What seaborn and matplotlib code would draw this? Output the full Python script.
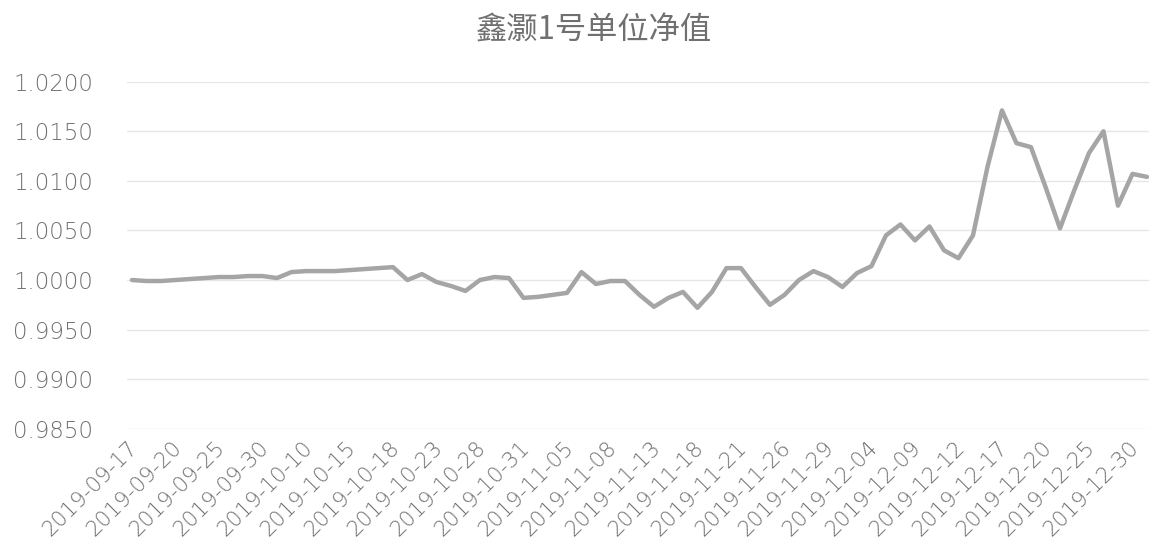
import numpy as np
import pandas as pd
import matplotlib
matplotlib.use('Agg')
import matplotlib.pyplot as plt
import matplotlib.transforms as mtransforms
import seaborn as sns

# ----------------------------
# data
# ----------------------------
dates = [
    '2019-09-17', '2019-09-18', '2019-09-19', '2019-09-20', '2019-09-23', '2019-09-24',
    '2019-09-25', '2019-09-26', '2019-09-27', '2019-09-30', '2019-10-08', '2019-10-09',
    '2019-10-10', '2019-10-11', '2019-10-14', '2019-10-15', '2019-10-16', '2019-10-17',
    '2019-10-18', '2019-10-21', '2019-10-22', '2019-10-23', '2019-10-24', '2019-10-25',
    '2019-10-28', '2019-10-29', '2019-10-30', '2019-10-31', '2019-11-01', '2019-11-04',
    '2019-11-05', '2019-11-06', '2019-11-07', '2019-11-08', '2019-11-11', '2019-11-12',
    '2019-11-13', '2019-11-14', '2019-11-15', '2019-11-18', '2019-11-19', '2019-11-20',
    '2019-11-21', '2019-11-22', '2019-11-25', '2019-11-26', '2019-11-27', '2019-11-28',
    '2019-11-29', '2019-12-02', '2019-12-03', '2019-12-04', '2019-12-05', '2019-12-06',
    '2019-12-09', '2019-12-10', '2019-12-11', '2019-12-12', '2019-12-13', '2019-12-16',
    '2019-12-17', '2019-12-18', '2019-12-19', '2019-12-20', '2019-12-23', '2019-12-24',
    '2019-12-25', '2019-12-26', '2019-12-27', '2019-12-30', '2019-12-31',
]

nav = [
    1.0000, 0.9999, 0.9999, 1.0000, 1.0001, 1.0002, 1.0003, 1.0003, 1.0004, 1.0004,
    1.0002, 1.0008, 1.0009, 1.0009, 1.0009, 1.0010, 1.0011, 1.0012, 1.0013, 1.0000,
    1.0006, 0.9998, 0.9994, 0.9989, 1.0000, 1.0003, 1.0002, 0.9982, 0.9983, 0.9985,
    0.9987, 1.0008, 0.9996, 0.9999, 0.9999, 0.9985, 0.9973, 0.9982, 0.9988, 0.9972,
    0.9988, 1.0012, 1.0012, 0.9993, 0.9975, 0.9985, 1.0000, 1.0009, 1.0003, 0.9993,
    1.0007, 1.0014, 1.0045, 1.0056, 1.0040, 1.0054, 1.0030, 1.0022, 1.0045, 1.0114,
    1.0171, 1.0138, 1.0134, 1.0094, 1.0052, 1.0091, 1.0128, 1.0150, 1.0075, 1.0107,
    1.0104,
]

y_ticks = [0.985, 0.990, 0.995, 1.000, 1.005, 1.010, 1.015, 1.020]
title = '鑫灏1号单位净值'

df = pd.DataFrame({'idx': range(len(dates)), 'date': dates, 'nav': nav})

# ----------------------------
# plot
# ----------------------------
sns.set_theme(style='white')
plt.rcParams['font.family'] = ['DejaVu Sans', 'Noto Sans CJK SC']

text_color = '#707070'

fig = plt.figure(figsize=(11.49, 5.46), dpi=100)
ax = fig.add_axes([0.1105, 0.2147, 0.8895, 0.6357])

sns.lineplot(data=df, x='idx', y='nav', ax=ax, color='#a5a5a5', linewidth=3.2)

ax.set_ylim(0.985, 1.020)
ax.set_xlim(-0.345, 70.14)
ax.set_yticks(y_ticks)
ax.set_yticklabels([f'{v:.4f}' for v in y_ticks], fontsize=16.5,
                   color=text_color, fontweight='light')

tick_pos = df['idx'][::3]
ax.set_xticks(tick_pos)
ax.set_xticklabels(df['date'][::3], rotation=45, ha='right', va='top',
                   rotation_mode='anchor', fontsize=15.5, color=text_color,
                   fontweight='light')
ax.tick_params(axis='x', length=0, pad=6)
ax.tick_params(axis='y', length=0, pad=24.5)

# nudge the slanted date labels a little left, as in the original
shift = mtransforms.ScaledTranslation(-0.04, 0.0, fig.dpi_scale_trans)
for lab in ax.get_xticklabels():
    lab.set_transform(lab.get_transform() + shift)

ax.grid(axis='y', color='#e6e6e6', linewidth=1.0)
ax.grid(axis='x', visible=False)
for s in ax.spines.values():
    s.set_visible(False)

ax.set_xlabel('')
ax.set_ylabel('')
fig.text(0.517, 0.943, title, ha='center', va='center', fontsize=22.5,
         color=text_color, family=['Noto Sans CJK SC', 'DejaVu Sans'],
         fontweight='light')

fig.savefig('out.png', dpi=100)
